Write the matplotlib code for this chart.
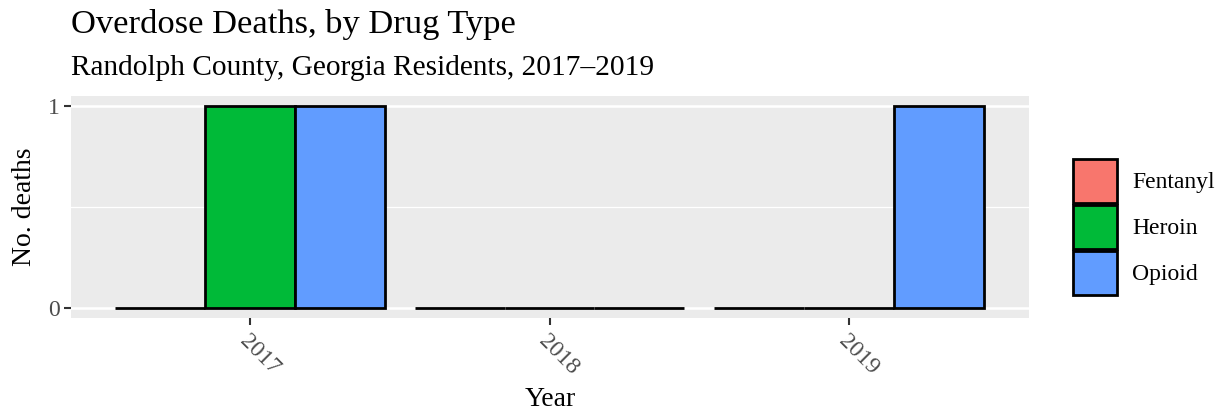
import numpy as np
import matplotlib
matplotlib.use("Agg")
import matplotlib.pyplot as plt
from matplotlib.patches import Patch

# data
years = [2017, 2018, 2019]
drug_types = ["Fentanyl", "Heroin", "Opioid"]
fentanyl = [0, 0, 0]
heroin = [1, 0, 0]
opioid = [1, 0, 1]
colors = ["#F8766D", "#00BA38", "#619CFF"]

plt.rcParams['font.family'] = ['Liberation Serif', 'DejaVu Serif']

fig = plt.figure(figsize=(12.25, 4.13), dpi=100)
ax = fig.add_axes([71 / 1225, 1 - 318 / 413, (1029 - 71) / 1225, (318 - 96) / 413])
ax.set_facecolor("#EBEBEB")

width = 0.3
x = np.array(years, dtype=float)
for i, (vals, col) in enumerate(zip([fentanyl, heroin, opioid], colors)):
    ax.bar(x + (i - 1) * width, vals, width=width, color=col,
           edgecolor="black", linewidth=2, zorder=3)

ax.set_xlim(2016.403, 2019.6)
ax.set_ylim(-0.05, 1.05)
ax.set_xticks(years)
ax.set_xticklabels([str(y) for y in years], rotation=-45, ha="left",
                   va="top", rotation_mode="anchor", fontsize=17, color="#4D4D4D")
ax.set_yticks([0, 1])
ax.set_yticklabels(["0", "1"], fontsize=17, color="#4D4D4D")
ax.set_yticks([0.5], minor=True)
ax.tick_params(axis="both", which="major", color="#333333", length=5, width=1.5, pad=3)
ax.tick_params(axis="x", which="major", pad=4)
ax.tick_params(axis="y", which="minor", length=0)
ax.grid(axis="y", which="major", color="white", linewidth=1.8, zorder=0)
ax.grid(axis="y", which="minor", color="white", linewidth=0.9, zorder=0)
ax.set_axisbelow(True)
for s in ax.spines.values():
    s.set_visible(False)

ax.set_xlabel("Year", fontsize=20, labelpad=6)
ax.set_ylabel("No. deaths", fontsize=20, labelpad=8)

fig.text(71 / 1225, 1 - 33 / 413, "Overdose Deaths, by Drug Type", fontsize=24.8,
         ha="left", va="baseline")
fig.text(71 / 1225, 1 - 75 / 413, "Randolph County, Georgia Residents, 2017\u20132019",
         fontsize=21.2, ha="left", va="baseline")

handles = [Patch(facecolor=c, edgecolor="black", linewidth=2, label=d)
           for c, d in zip(colors, drug_types)]
leg = fig.legend(handles=handles, loc="center left", bbox_to_anchor=(1073 / 1225, 1 - 227 / 413),
                 frameon=False, fontsize=17, handlelength=1.86, handleheight=2.49,
                 labelspacing=0.085, handletextpad=0.65, borderaxespad=0, borderpad=0)

fig.savefig("out.png", dpi=100)
